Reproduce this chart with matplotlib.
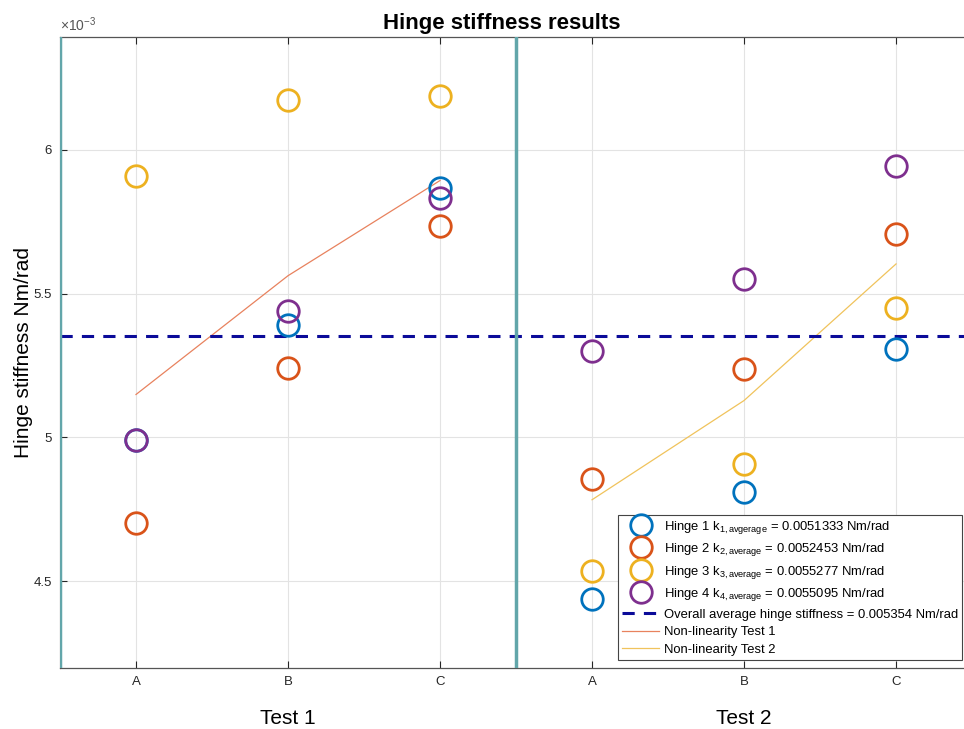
import numpy as np
import matplotlib
matplotlib.use('Agg')
import matplotlib.pyplot as plt
from matplotlib.ticker import FuncFormatter
import matplotlib.transforms as mtransforms

plt.rcParams['font.family'] = ['Liberation Sans', 'DejaVu Sans']
plt.rcParams['mathtext.fontset'] = 'custom'
plt.rcParams['mathtext.rm'] = 'Liberation Sans'
plt.rcParams['mathtext.it'] = 'Liberation Sans'

# posizioni A, B, C (Test 1) e A, B, C (Test 2)
posizioni = [1, 2, 3, 4, 5, 6]
etichette = ['A', 'B', 'C', 'A', 'B', 'C']
test_nomi = ['Test 1', 'Test 2']

# rigidezza misurata per cerniera [Nm/rad]
hinge1 = [4.990e-3, 5.392e-3, 5.868e-3, 4.437e-3, 4.809e-3, 5.306e-3]
hinge2 = [4.701e-3, 5.240e-3, 5.736e-3, 4.854e-3, 5.236e-3, 5.708e-3]
hinge3 = [5.910e-3, 6.174e-3, 6.188e-3, 4.535e-3, 4.906e-3, 5.451e-3]
hinge4 = [4.990e-3, 5.441e-3, 5.833e-3, 5.299e-3, 5.552e-3, 5.944e-3]
medie = ['0.0051333', '0.0052453', '0.0055277', '0.0055095']
pedici = ['1,avgerage', '2,average', '3,average', '4,average']
media_totale = 5.354e-3

# non linearita
nl_test1_x = [1, 2, 3]
nl_test1_y = [5.149e-3, 5.562e-3, 5.893e-3]
nl_test2_x = [4, 5, 6]
nl_test2_y = [4.783e-3, 5.128e-3, 5.603e-3]

colori = ['#0072BD', '#D95319', '#EDB120', '#7E2F8E']

fig = plt.figure(figsize=(9.64, 7.29), dpi=100)
ax = fig.add_axes([60/964, 1 - 668/729, 1 - 60/964, (668-37)/729])

for i, serie in enumerate([hinge1, hinge2, hinge3, hinge4]):
    ax.plot(posizioni, serie, 'o', mfc='none', mec=colori[i], ms=15.5, mew=2,
            label='Hinge %d k$_{\\mathrm{%s}}$ = %s Nm/rad' % (i+1, pedici[i], medie[i]),
            zorder=4)

ax.axhline(media_totale, color='#0b0b99', ls=(0, (4, 3)), lw=2.2,
           label='Overall average hinge stiffness = 0.005354 Nm/rad', zorder=3)
ax.plot(nl_test1_x, nl_test1_y, color='#E8825E', lw=0.9, label='Non-linearity Test 1')
ax.plot(nl_test2_x, nl_test2_y, color='#F0C35C', lw=0.9, label='Non-linearity Test 2')

# separatori tra i test
ax.axvline(0.5, color='#62a6aa', lw=2.5, zorder=5)
ax.axvline(3.5, color='#62a6aa', lw=2.5, zorder=5)

ax.set_xlim(0.5, 6.447)
ax.set_ylim(4.198e-3, 6.392e-3)
ax.set_xticks(posizioni)
ax.set_xticklabels(etichette)
ax.set_yticks([4.5e-3, 5e-3, 5.5e-3, 6e-3])
ax.yaxis.set_major_formatter(FuncFormatter(lambda v, p: '%g' % round(v*1e3, 3)))
ax.tick_params(direction='in', length=5, width=0.8, colors='#262626', labelsize=9.5,
               top=True, pad=6)
ax.grid(True, color='#e3e3e3', lw=0.8)
ax.set_axisbelow(True)
for s in ['bottom', 'top']:
    ax.spines[s].set_color('#555555')
    ax.spines[s].set_linewidth(0.9)
ax.spines['right'].set_visible(False)

ax.text(0.0, 1.004, r'$\times\mathregular{10^{-3}}$', transform=ax.transAxes,
        fontsize=10, color='#555555', ha='left', va='bottom')
ax.set_ylabel('Hinge stiffness Nm/rad', fontsize=15, labelpad=0)
ax.set_title('Hinge stiffness results', fontsize=16, fontweight='bold',
             x=(502-60)/904, pad=6)

trans = mtransforms.blended_transform_factory(ax.transData, ax.transAxes)
ax.text(2, -0.08, test_nomi[0], transform=trans, ha='center', va='center', fontsize=15)
ax.text(5, -0.08, test_nomi[1], transform=trans, ha='center', va='center', fontsize=15)

leg = ax.legend(loc='lower right', bbox_to_anchor=(0.998, 0.013), borderaxespad=0,
                fontsize=9.4, fancybox=False, framealpha=1, edgecolor='#444444',
                handlelength=2.9, handletextpad=0.35, labelspacing=0.42,
                borderpad=0.3)
leg.get_frame().set_linewidth(0.8)

fig.savefig('out.png', dpi=100)
